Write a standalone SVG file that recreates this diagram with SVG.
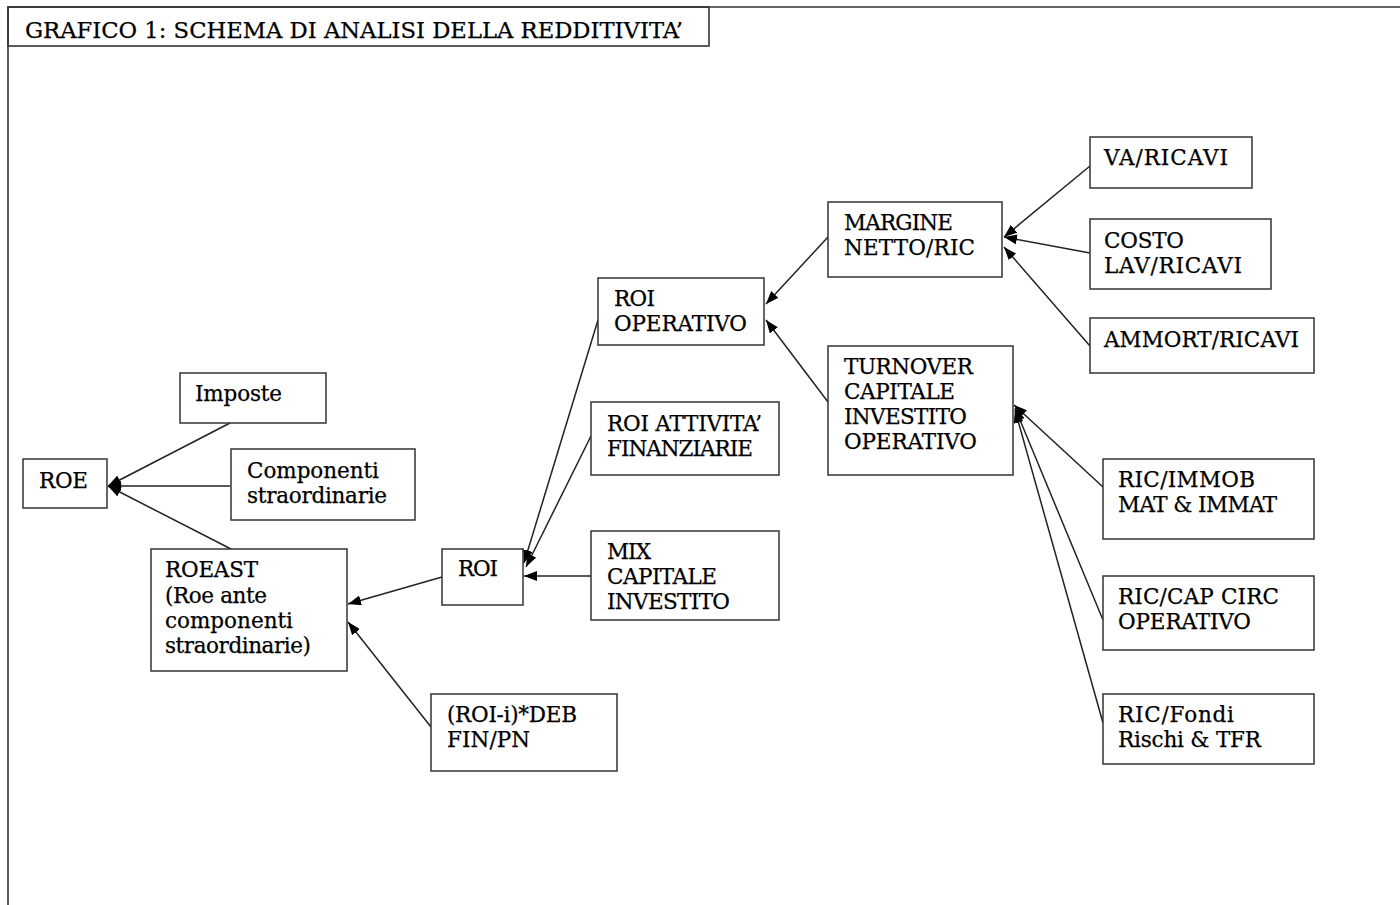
<svg xmlns="http://www.w3.org/2000/svg" width="1400" height="905" viewBox="0 0 1400 905">
<defs>
<style>
.frame{fill:none;stroke:#333;stroke-width:1.6}
.box{fill:#fff;stroke:#333;stroke-width:1.5}
.t{font-family:"DejaVu Serif","Liberation Serif",serif;font-size:21.5px;fill:#000;stroke:#000;stroke-width:0.25}
.title{font-family:"DejaVu Serif","Liberation Serif",serif;font-size:22.5px;fill:#000;stroke:#000;stroke-width:0.25}
.c{fill:none;stroke:#222;stroke-width:1.5}
</style>
<marker id="ah" viewBox="0 0 13 10" refX="13" refY="5" markerWidth="13" markerHeight="10" orient="auto" markerUnits="userSpaceOnUse">
<path d="M0,0 L13,5 L0,10 z" fill="#000"/>
</marker>
</defs>
<rect width="1400" height="905" fill="#fff"/>
<g id="frame">
<path class="frame" d="M8,905 V7 H1400"/>
<rect class="frame" x="8" y="7" width="701" height="39"/>
<text class="title" x="25" y="37.5" textLength="658" lengthAdjust="spacingAndGlyphs">GRAFICO  1: SCHEMA DI ANALISI DELLA REDDITIVITA’</text>
</g>
<g id="connectors">
<line class="c" x1="230" y1="423" x2="108" y2="486" marker-end="url(#ah)"/>
<line class="c" x1="230" y1="486" x2="108" y2="486" marker-end="url(#ah)"/>
<line class="c" x1="231" y1="549" x2="108" y2="486" marker-end="url(#ah)"/>
<line class="c" x1="442" y1="577" x2="348" y2="604" marker-end="url(#ah)"/>
<line class="c" x1="431" y1="727" x2="348" y2="622" marker-end="url(#ah)"/>
<line class="c" x1="598" y1="320" x2="524" y2="563" marker-end="url(#ah)"/>
<line class="c" x1="591" y1="436" x2="526" y2="567" marker-end="url(#ah)"/>
<line class="c" x1="591" y1="576" x2="524" y2="576" marker-end="url(#ah)"/>
<line class="c" x1="828" y1="237" x2="766" y2="304" marker-end="url(#ah)"/>
<line class="c" x1="828" y1="402" x2="766" y2="320" marker-end="url(#ah)"/>
<line class="c" x1="1090" y1="166" x2="1004" y2="237" marker-end="url(#ah)"/>
<line class="c" x1="1090" y1="253" x2="1004" y2="237" marker-end="url(#ah)"/>
<line class="c" x1="1090" y1="346" x2="1004" y2="247" marker-end="url(#ah)"/>
<line class="c" x1="1103" y1="487" x2="1014" y2="405" marker-end="url(#ah)"/>
<line class="c" x1="1103" y1="620" x2="1015" y2="408" marker-end="url(#ah)"/>
<line class="c" x1="1103" y1="723" x2="1015" y2="410" marker-end="url(#ah)"/>
</g>
<g id="roe"><rect class="box" x="23" y="459" width="84" height="49"/><text class="t" x="39" y="488" textLength="49">ROE</text></g>
<g id="imposte"><rect class="box" x="180" y="373" width="146" height="50"/><text class="t" x="195" y="401" textLength="87">Imposte</text></g>
<g id="componenti"><rect class="box" x="231" y="449" width="184" height="71"/><text class="t" x="247" y="478" textLength="132">Componenti</text><text class="t" x="247" y="503" textLength="140">straordinarie</text></g>
<g id="roeast"><rect class="box" x="151" y="549" width="196" height="122"/><text class="t" x="165" y="577" textLength="93">ROEAST</text><text class="t" x="165" y="603" textLength="102">(Roe ante</text><text class="t" x="165" y="628" textLength="128">componenti</text><text class="t" x="165" y="653" textLength="146">straordinarie)</text></g>
<g id="roi"><rect class="box" x="442" y="549" width="81" height="56"/><text class="t" x="458" y="576" textLength="40">ROI</text></g>
<g id="roi-i"><rect class="box" x="431" y="694" width="186" height="77"/><text class="t" x="447" y="722" textLength="130">(ROI-i)*DEB</text><text class="t" x="447" y="747" textLength="83">FIN/PN</text></g>
<g id="roi-operativo"><rect class="box" x="598" y="278" width="166" height="67"/><text class="t" x="614" y="306" textLength="41">ROI</text><text class="t" x="614" y="331" textLength="133">OPERATIVO</text></g>
<g id="roi-att-fin"><rect class="box" x="591" y="402" width="188" height="73"/><text class="t" x="607" y="431" textLength="155">ROI ATTIVITA’</text><text class="t" x="607" y="456" textLength="146">FINANZIARIE</text></g>
<g id="mix"><rect class="box" x="591" y="531" width="188" height="89"/><text class="t" x="607" y="559" textLength="44">MIX</text><text class="t" x="607" y="584" textLength="110">CAPITALE</text><text class="t" x="607" y="609" textLength="123">INVESTITO</text></g>
<g id="margine"><rect class="box" x="828" y="202" width="174" height="75"/><text class="t" x="844" y="230" textLength="109">MARGINE</text><text class="t" x="844" y="255" textLength="131">NETTO/RIC</text></g>
<g id="turnover"><rect class="box" x="828" y="346" width="185" height="129"/><text class="t" x="844" y="374" textLength="129">TURNOVER</text><text class="t" x="844" y="399" textLength="111">CAPITALE</text><text class="t" x="844" y="424" textLength="123">INVESTITO</text><text class="t" x="844" y="449" textLength="133">OPERATIVO</text></g>
<g id="va-ricavi"><rect class="box" x="1090" y="137" width="162" height="51"/><text class="t" x="1104" y="165" textLength="124">VA/RICAVI</text></g>
<g id="costo-lav"><rect class="box" x="1090" y="219" width="181" height="70"/><text class="t" x="1104" y="248" textLength="80">COSTO</text><text class="t" x="1104" y="273" textLength="138">LAV/RICAVI</text></g>
<g id="ammort"><rect class="box" x="1090" y="318" width="224" height="55"/><text class="t" x="1104" y="347" textLength="195">AMMORT/RICAVI</text></g>
<g id="ric-immob"><rect class="box" x="1103" y="459" width="211" height="80"/><text class="t" x="1118" y="487" textLength="137">RIC/IMMOB</text><text class="t" x="1118" y="512" textLength="159">MAT &amp; IMMAT</text></g>
<g id="ric-cap"><rect class="box" x="1103" y="576" width="211" height="74"/><text class="t" x="1118" y="604" textLength="161">RIC/CAP CIRC</text><text class="t" x="1118" y="629" textLength="133">OPERATIVO</text></g>
<g id="ric-fondi"><rect class="box" x="1103" y="694" width="211" height="70"/><text class="t" x="1118" y="722" textLength="116">RIC/Fondi</text><text class="t" x="1118" y="747" textLength="143">Rischi &amp; TFR</text></g>
</svg>
